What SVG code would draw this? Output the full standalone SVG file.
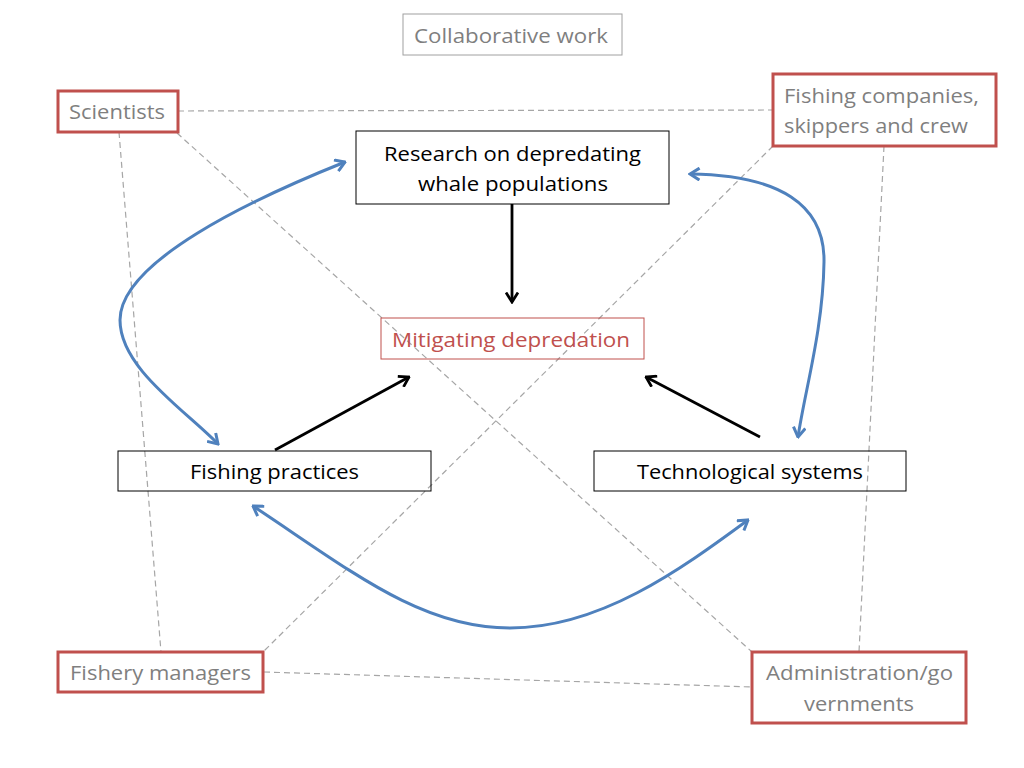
<svg xmlns="http://www.w3.org/2000/svg" width="1024" height="768" viewBox="0 0 1024 768">
<defs>
<style>
text{font-family:"Open Sans","Liberation Sans",sans-serif;font-size:20px}
.g{fill:#7f7f7f}
.k{fill:#000}
.r{fill:#c0504d}
.stake{fill:#fff;stroke:#c0504d;stroke-width:3}
.inner{fill:none;stroke:#000;stroke-width:1}
.dash{stroke:#a6a6a6;stroke-width:1.2;stroke-dasharray:6 4;fill:none}
.blk{stroke:#000;stroke-width:2.8;fill:none;marker-end:url(#ak)}
.blu{stroke:#4f81bd;stroke-width:3;fill:none;marker-start:url(#ab);marker-end:url(#ab)}
</style>
<marker id="ak" viewBox="0 0 12 14" refX="10.5" refY="7" markerWidth="12" markerHeight="14" markerUnits="userSpaceOnUse" orient="auto">
<path d="M1,1 L10.5,7 L1,13" fill="none" stroke="#000" stroke-width="2.8"/>
</marker>
<marker id="ab" viewBox="0 0 12 14" refX="10.5" refY="7" markerWidth="12" markerHeight="14" markerUnits="userSpaceOnUse" orient="auto-start-reverse">
<path d="M1,1 L10.5,7 L1,13" fill="none" stroke="#4f81bd" stroke-width="3"/>
</marker>
</defs>
<rect width="1024" height="768" fill="#fff"/>
<g id="connectors">
<line class="dash" x1="178" y1="111" x2="773" y2="110"/>
<line class="dash" x1="119" y1="132" x2="161" y2="652"/>
<line class="dash" x1="177" y1="133" x2="752" y2="652"/>
<line class="dash" x1="773" y1="146" x2="264" y2="651"/>
<line class="dash" x1="884" y1="146" x2="859" y2="652"/>
<line class="dash" x1="264" y1="672" x2="752" y2="687"/>
<line class="blk" x1="512" y1="204" x2="512" y2="302"/>
<line class="blk" x1="275" y1="450" x2="409" y2="377"/>
<line class="blk" x1="760" y1="437" x2="646" y2="377"/>
<path class="blu" d="M345,162 C250,200 120,262 120,320 C120,368 185,410 218,444"/>
<path class="blu" d="M690,174 C780,175 825,205 824,262 C823,330 805,390 798,437"/>
<path class="blu" d="M253,506 C350,570 420,628 510,628 C600,628 680,570 748,520"/>
</g>
<g id="collab">
<rect x="403" y="14" width="219" height="41" fill="#fff" stroke="#a0a0a0" stroke-width="1"/>
<text class="g" x="414" y="43" textLength="194" lengthAdjust="spacingAndGlyphs">Collaborative work</text>
</g>
<g id="scientists">
<rect class="stake" x="58" y="91" width="120" height="41"/>
<text class="g" x="69" y="119" textLength="96" lengthAdjust="spacingAndGlyphs">Scientists</text>
</g>
<g id="fishing-companies">
<rect class="stake" x="773" y="74" width="223" height="72"/>
<text class="g" x="784" y="103" textLength="195" lengthAdjust="spacingAndGlyphs">Fishing companies,</text>
<text class="g" x="784" y="133" textLength="184" lengthAdjust="spacingAndGlyphs">skippers and crew</text>
</g>
<g id="research">
<rect x="356" y="131" width="313" height="73" fill="#fff" stroke="#000" stroke-width="1"/>
<text class="k" x="384" y="161" textLength="257" lengthAdjust="spacingAndGlyphs">Research on depredating</text>
<text class="k" x="418" y="191" textLength="190" lengthAdjust="spacingAndGlyphs">whale populations</text>
</g>
<g id="mitigating">
<rect x="381" y="318" width="263" height="41" fill="none" stroke="#c0504d" stroke-width="1"/>
<text class="r" x="392" y="347" textLength="238" lengthAdjust="spacingAndGlyphs">Mitigating depredation</text>
</g>
<g id="fishing-practices">
<rect class="inner" x="118" y="451" width="313" height="40"/>
<text class="k" x="190" y="479" textLength="169" lengthAdjust="spacingAndGlyphs">Fishing practices</text>
</g>
<g id="technological">
<rect class="inner" x="594" y="451" width="312" height="40"/>
<text class="k" x="637" y="479" textLength="226" lengthAdjust="spacingAndGlyphs">Technological systems</text>
</g>
<g id="fishery-managers">
<rect class="stake" x="58" y="652" width="205" height="40"/>
<text class="g" x="70" y="680" textLength="181" lengthAdjust="spacingAndGlyphs">Fishery managers</text>
</g>
<g id="administration">
<rect class="stake" x="752" y="652" width="214" height="71"/>
<text class="g" x="766" y="680" textLength="187" lengthAdjust="spacingAndGlyphs">Administration/go</text>
<text class="g" x="804" y="711" textLength="110" lengthAdjust="spacingAndGlyphs">vernments</text>
</g>
</svg>
